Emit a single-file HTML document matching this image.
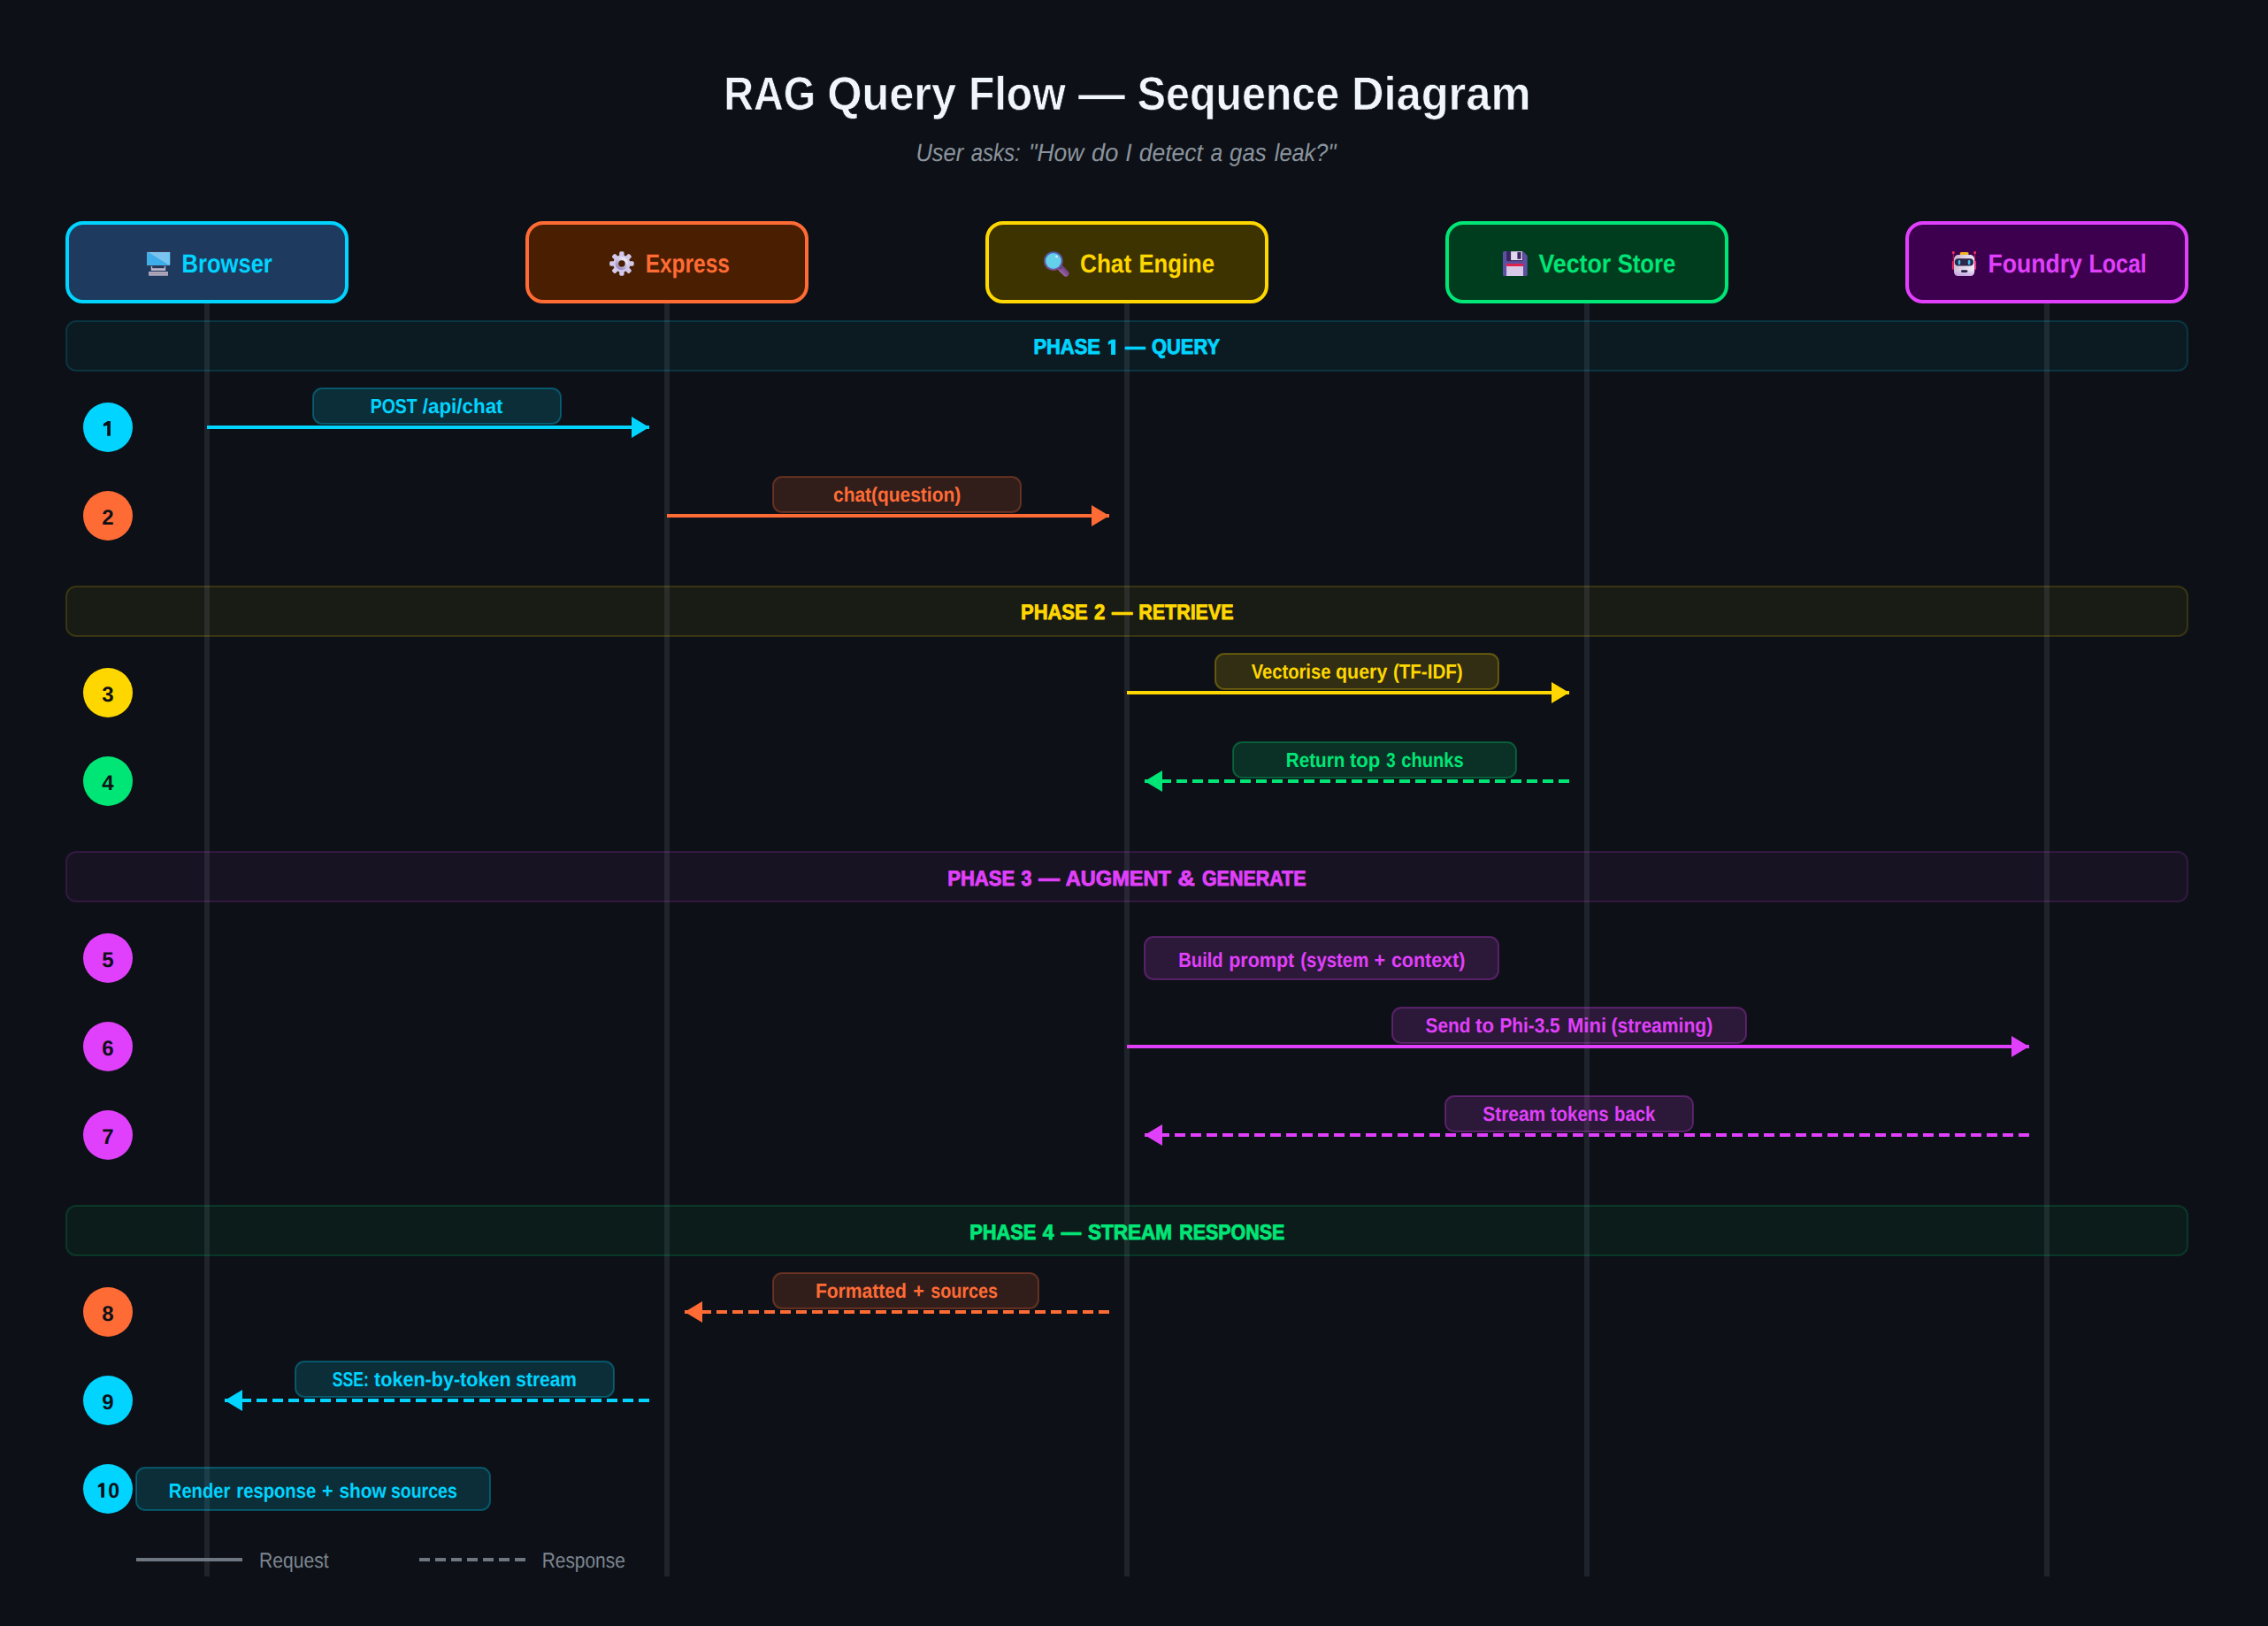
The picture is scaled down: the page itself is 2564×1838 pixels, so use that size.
<!DOCTYPE html>
<html><head><meta charset="utf-8"><title>RAG Query Flow</title>
<style>html,body{margin:0;padding:0;width:100%;height:100%;background:#0d1117;overflow:hidden;}svg{display:block;}</style>
</head><body>
<svg width="2564" height="1838" style="width:100vw;height:100vh" viewBox="0 0 1282 919" font-family='"Liberation Sans", sans-serif' text-rendering="geometricPrecision">
<rect width="1282" height="919" fill="#0d1117"/>
<line x1="117" y1="171.5" x2="117" y2="891" stroke="#1f242c" stroke-width="3"/>
<line x1="377" y1="171.5" x2="377" y2="891" stroke="#1f242c" stroke-width="3"/>
<line x1="637" y1="171.5" x2="637" y2="891" stroke="#1f242c" stroke-width="3"/>
<line x1="897" y1="171.5" x2="897" y2="891" stroke="#1f242c" stroke-width="3"/>
<line x1="1157" y1="171.5" x2="1157" y2="891" stroke="#1f242c" stroke-width="3"/>
<rect x="37.5" y="181.5" width="1199" height="28" rx="5.5" fill="#00d4ff" fill-opacity="0.05" stroke="#00d4ff" stroke-opacity="0.16" stroke-width="1"/>
<rect x="37.5" y="331.5" width="1199" height="28" rx="5.5" fill="#ffd700" fill-opacity="0.05" stroke="#ffd700" stroke-opacity="0.16" stroke-width="1"/>
<rect x="37.5" y="481.5" width="1199" height="28" rx="5.5" fill="#e040fb" fill-opacity="0.05" stroke="#e040fb" stroke-opacity="0.16" stroke-width="1"/>
<rect x="37.5" y="681.5" width="1199" height="28" rx="5.5" fill="#00e676" fill-opacity="0.05" stroke="#00e676" stroke-opacity="0.16" stroke-width="1"/>
<rect x="38" y="126" width="158" height="44.5" rx="9" fill="#1e3a5f" stroke="#00d4ff" stroke-width="2"/>
<rect x="298" y="126" width="158" height="44.5" rx="9" fill="#4a1e00" stroke="#ff6b35" stroke-width="2"/>
<rect x="558" y="126" width="158" height="44.5" rx="9" fill="#3d3300" stroke="#ffd700" stroke-width="2"/>
<rect x="818" y="126" width="158" height="44.5" rx="9" fill="#003d1e" stroke="#00e676" stroke-width="2"/>
<rect x="1078" y="126" width="158" height="44.5" rx="9" fill="#3d004f" stroke="#e040fb" stroke-width="2"/>
<g transform="translate(80,139) scale(0.5)">
<rect x="5.2" y="6" width="27.6" height="16.8" rx="0.6" fill="#3d3a52"/>
<rect x="6" y="7" width="26.1" height="15" fill="#3eaeea"/>
<polygon points="7.5,7 32.1,7 32.1,21.2 30.6,21.2" fill="#7cc3f0"/>
<rect x="29" y="7" width="3.1" height="14" fill="#62cdf6" opacity="0.6"/>
<rect x="10.8" y="22.8" width="1.4" height="5.1" fill="#c4bacf"/>
<rect x="25.8" y="22.8" width="1.4" height="5.1" fill="#c4bacf"/>
<rect x="12" y="25.2" width="14" height="2.7" fill="#c0b7cc"/>
<rect x="8.1" y="29" width="21.8" height="4.7" fill="#bab2c6"/>
<rect x="9" y="30" width="20" height="2.4" fill="#a49db0"/>
</g>
<g transform="translate(342,139) scale(0.5)">
<defs><linearGradient id="gring" x1="0.2" y1="0.9" x2="0.8" y2="0.1">
<stop offset="0" stop-color="#9d8fc2"/><stop offset="1" stop-color="#ece8f4"/></linearGradient></defs>
<g fill="#d3c9ea"><rect x="16.2" y="6.2" width="5.4" height="9" rx="1.7" transform="rotate(0 18.9 20)"/><rect x="16.2" y="6.2" width="5.4" height="9" rx="1.7" transform="rotate(45 18.9 20)"/><rect x="16.2" y="6.2" width="5.4" height="9" rx="1.7" transform="rotate(90 18.9 20)"/><rect x="16.2" y="6.2" width="5.4" height="9" rx="1.7" transform="rotate(135 18.9 20)"/><rect x="16.2" y="6.2" width="5.4" height="9" rx="1.7" transform="rotate(180 18.9 20)"/><rect x="16.2" y="6.2" width="5.4" height="9" rx="1.7" transform="rotate(225 18.9 20)"/><rect x="16.2" y="6.2" width="5.4" height="9" rx="1.7" transform="rotate(270 18.9 20)"/><rect x="16.2" y="6.2" width="5.4" height="9" rx="1.7" transform="rotate(315 18.9 20)"/></g>
<circle cx="18.9" cy="20" r="9.7" fill="#d3c9ea"/>
<circle cx="18.9" cy="20" r="5.6" fill="none" stroke="url(#gring)" stroke-width="3.4"/>
<circle cx="18.9" cy="20" r="3.8" fill="#4a1e00"/>
</g>
<g transform="translate(587.5,139) scale(0.5)">
<defs><linearGradient id="mrim" x1="0" y1="0" x2="0" y2="1">
<stop offset="0" stop-color="#4d5aaa"/><stop offset="1" stop-color="#7e4a92"/></linearGradient>
<linearGradient id="mhan" x1="0" y1="1" x2="1" y2="0">
<stop offset="0" stop-color="#a066a4"/><stop offset="1" stop-color="#6a3c86"/></linearGradient></defs>
<line x1="24.6" y1="25.6" x2="30" y2="31" stroke="url(#mhan)" stroke-width="7.2" stroke-linecap="round"/>
<line x1="22.6" y1="23.6" x2="24.6" y2="25.6" stroke="#5e3a7c" stroke-width="4"/>
<circle cx="15.9" cy="17" r="10.8" fill="url(#mrim)"/>
<circle cx="15.9" cy="17" r="9" fill="#52c4ee"/>
<circle cx="15.9" cy="17" r="8.3" fill="#64d0ea"/>
<circle cx="19.5" cy="12.1" r="1.4" fill="#dfe4f8"/>
</g>
<g transform="translate(847,139) scale(0.5)">
<path d="M6.5,6 H27.8 L32.7,11 V32.5 Q32.7,34 31.2,34 H6.5 Q5,34 5,32.5 V7.5 Q5,6 6.5,6 Z" fill="#5d50a0"/>
<rect x="9.2" y="6" width="18.4" height="11.2" rx="1.2" fill="#36255e"/>
<rect x="14.1" y="6.2" width="12.9" height="9.9" fill="#e0d7ec"/>
<rect x="21.4" y="7.1" width="4.2" height="7.7" fill="#3a2666"/>
<rect x="9.1" y="20" width="18.9" height="14" fill="#d8c9e7"/>
<rect x="9.1" y="20" width="18.9" height="3" fill="#e0204c"/>
</g>
<g transform="translate(1100,139) scale(0.5)">
<line x1="8.3" y1="8" x2="8.3" y2="18" stroke="#c82050" stroke-width="0.9"/>
<line x1="32.7" y1="8" x2="32.7" y2="18" stroke="#c82050" stroke-width="0.9"/>
<circle cx="8.3" cy="7.6" r="1.5" fill="#ff3058"/>
<circle cx="32.7" cy="7.6" r="1.5" fill="#ff3058"/>
<rect x="6.9" y="17" width="1.9" height="9.8" rx="0.8" fill="#e8285c"/>
<rect x="32.2" y="17" width="1.9" height="9.8" rx="0.8" fill="#f0308a"/>
<rect x="15.7" y="7" width="9.9" height="3.3" rx="1.6" fill="#f2b41e"/>
<defs><linearGradient id="rhead" x1="0" y1="0" x2="1" y2="0.35">
<stop offset="0" stop-color="#c9b0c8"/><stop offset="0.45" stop-color="#dccfe6"/><stop offset="1" stop-color="#eee9f6"/></linearGradient>
<linearGradient id="rbot" x1="0" y1="0" x2="0" y2="1">
<stop offset="0.7" stop-color="#b98fe0" stop-opacity="0"/><stop offset="1" stop-color="#b98fe0" stop-opacity="0.7"/></linearGradient></defs>
<rect x="9" y="10.1" width="23.2" height="24" rx="5" fill="url(#rhead)"/>
<rect x="9" y="10.1" width="23.2" height="24" rx="5" fill="url(#rbot)"/>
<rect x="9.8" y="14.3" width="21.2" height="8.1" rx="4" fill="#2f2648"/>
<rect x="13.8" y="16" width="2.4" height="5.2" rx="1.2" fill="#3cc2f4"/>
<rect x="24.8" y="16" width="2.6" height="5.2" rx="1.2" fill="#3cc2f4"/>
<rect x="17" y="27.2" width="7.4" height="2.7" rx="1.35" fill="#2a2244"/>
</g>
<rect x="177" y="219.5" width="140" height="20" rx="5" fill="#00d4ff" fill-opacity="0.15" stroke="#00d4ff" stroke-opacity="0.3" stroke-width="1"/>
<rect x="437" y="269.5" width="140" height="20" rx="5" fill="#ff6b35" fill-opacity="0.15" stroke="#ff6b35" stroke-opacity="0.3" stroke-width="1"/>
<rect x="687" y="369.5" width="160" height="20" rx="5" fill="#ffd700" fill-opacity="0.15" stroke="#ffd700" stroke-opacity="0.3" stroke-width="1"/>
<rect x="697" y="419.5" width="160" height="20" rx="5" fill="#00e676" fill-opacity="0.15" stroke="#00e676" stroke-opacity="0.3" stroke-width="1"/>
<rect x="647" y="529.5" width="200" height="24" rx="5" fill="#e040fb" fill-opacity="0.15" stroke="#e040fb" stroke-opacity="0.3" stroke-width="1"/>
<rect x="787" y="569.5" width="200" height="20" rx="5" fill="#e040fb" fill-opacity="0.15" stroke="#e040fb" stroke-opacity="0.3" stroke-width="1"/>
<rect x="817" y="619.5" width="140" height="20" rx="5" fill="#e040fb" fill-opacity="0.15" stroke="#e040fb" stroke-opacity="0.3" stroke-width="1"/>
<rect x="437" y="719.5" width="150" height="20" rx="5" fill="#ff6b35" fill-opacity="0.15" stroke="#ff6b35" stroke-opacity="0.3" stroke-width="1"/>
<rect x="167" y="769.5" width="180" height="20" rx="5" fill="#00d4ff" fill-opacity="0.15" stroke="#00d4ff" stroke-opacity="0.3" stroke-width="1"/>
<rect x="77" y="829.5" width="200" height="24" rx="5" fill="#00d4ff" fill-opacity="0.15" stroke="#00d4ff" stroke-opacity="0.3" stroke-width="1"/>
<line x1="117" y1="241.5" x2="367" y2="241.5" stroke="#00d4ff" stroke-width="2"/>
<polygon points="367,241.5 357,235.5 357,247.5" fill="#00d4ff"/>
<line x1="377" y1="291.5" x2="627" y2="291.5" stroke="#ff6b35" stroke-width="2"/>
<polygon points="627,291.5 617,285.5 617,297.5" fill="#ff6b35"/>
<line x1="637" y1="391.5" x2="887" y2="391.5" stroke="#ffd700" stroke-width="2"/>
<polygon points="887,391.5 877,385.5 877,397.5" fill="#ffd700"/>
<line x1="887" y1="441.5" x2="647" y2="441.5" stroke="#00e676" stroke-width="2" stroke-dasharray="6 3"/>
<polygon points="647,441.5 657,435.5 657,447.5" fill="#00e676"/>
<line x1="637" y1="591.5" x2="1147" y2="591.5" stroke="#e040fb" stroke-width="2"/>
<polygon points="1147,591.5 1137,585.5 1137,597.5" fill="#e040fb"/>
<line x1="1147" y1="641.5" x2="647" y2="641.5" stroke="#e040fb" stroke-width="2" stroke-dasharray="6 3"/>
<polygon points="647,641.5 657,635.5 657,647.5" fill="#e040fb"/>
<line x1="627" y1="741.5" x2="387" y2="741.5" stroke="#ff6b35" stroke-width="2" stroke-dasharray="6 3"/>
<polygon points="387,741.5 397,735.5 397,747.5" fill="#ff6b35"/>
<line x1="367" y1="791.5" x2="127" y2="791.5" stroke="#00d4ff" stroke-width="2" stroke-dasharray="6 3"/>
<polygon points="127,791.5 137,785.5 137,797.5" fill="#00d4ff"/>
<circle cx="61" cy="241.5" r="14" fill="#00d4ff"/>
<polygon points="62.45,238.05 60.85,238.05 58.45,239.55 58.45,240.95 60.60,240.32 60.60,246.35 62.45,246.35" fill="#0d1117"/>
<circle cx="61" cy="291.5" r="14" fill="#ff6b35"/>
<text x="61" y="296.3" font-size="12" font-weight="bold" fill="#0d1117" text-anchor="middle">2</text>
<circle cx="61" cy="391.5" r="14" fill="#ffd700"/>
<text x="61" y="396.3" font-size="12" font-weight="bold" fill="#0d1117" text-anchor="middle">3</text>
<circle cx="61" cy="441.5" r="14" fill="#00e676"/>
<text x="61" y="446.3" font-size="12" font-weight="bold" fill="#0d1117" text-anchor="middle">4</text>
<circle cx="61" cy="541.5" r="14" fill="#e040fb"/>
<text x="61" y="546.3" font-size="12" font-weight="bold" fill="#0d1117" text-anchor="middle">5</text>
<circle cx="61" cy="591.5" r="14" fill="#e040fb"/>
<text x="61" y="596.3" font-size="12" font-weight="bold" fill="#0d1117" text-anchor="middle">6</text>
<circle cx="61" cy="641.5" r="14" fill="#e040fb"/>
<text x="61" y="646.3" font-size="12" font-weight="bold" fill="#0d1117" text-anchor="middle">7</text>
<circle cx="61" cy="741.5" r="14" fill="#ff6b35"/>
<text x="61" y="746.3" font-size="12" font-weight="bold" fill="#0d1117" text-anchor="middle">8</text>
<circle cx="61" cy="791.5" r="14" fill="#00d4ff"/>
<text x="61" y="796.3" font-size="12" font-weight="bold" fill="#0d1117" text-anchor="middle">9</text>
<circle cx="61" cy="841.5" r="14" fill="#00d4ff"/>
<polygon points="58.95,838.10 57.35,838.10 55.40,839.50 55.40,840.80 57.10,840.21 57.10,846.35 58.95,846.35" fill="#0d1117"/>
<polygon points="630.53,191.93 628.29,191.93 626.40,193.13 626.40,194.94 628.04,194.13 628.04,200.53 630.53,200.53" fill="#00d4ff"/>
<line x1="77" y1="881.5" x2="137" y2="881.5" stroke="#6e7681" stroke-width="2"/>
<line x1="237" y1="881.5" x2="297" y2="881.5" stroke="#6e7681" stroke-width="2" stroke-dasharray="6 3"/>
<text x="409.15" y="62.15" font-size="26.6" font-weight="bold" font-style="normal" stroke="#0d1117" stroke-width="0.35" stroke-linejoin="round" fill="#f0f6fc" textLength="51.87" lengthAdjust="spacingAndGlyphs">RAG</text>
<text x="467.60" y="62.15" font-size="26.6" font-weight="bold" font-style="normal" stroke="#0d1117" stroke-width="0.35" stroke-linejoin="round" fill="#f0f6fc" textLength="72.95" lengthAdjust="spacingAndGlyphs">Query</text>
<text x="547.49" y="62.15" font-size="26.6" font-weight="bold" font-style="normal" stroke="#0d1117" stroke-width="0.35" stroke-linejoin="round" fill="#f0f6fc" textLength="54.88" lengthAdjust="spacingAndGlyphs">Flow</text>
<text x="609.55" y="62.15" font-size="26.6" font-weight="bold" font-style="normal" stroke="#0d1117" stroke-width="0.35" stroke-linejoin="round" fill="#f0f6fc" textLength="26.49" lengthAdjust="spacingAndGlyphs">—</text>
<text x="642.89" y="62.15" font-size="26.6" font-weight="bold" font-style="normal" stroke="#0d1117" stroke-width="0.35" stroke-linejoin="round" fill="#f0f6fc" textLength="114.20" lengthAdjust="spacingAndGlyphs">Sequence</text>
<text x="763.95" y="62.15" font-size="26.6" font-weight="bold" font-style="normal" stroke="#0d1117" stroke-width="0.35" stroke-linejoin="round" fill="#f0f6fc" textLength="101.28" lengthAdjust="spacingAndGlyphs">Diagram</text>
<text x="517.69" y="91.15" font-size="14.0" font-weight="normal" font-style="italic" fill="#8b949e" textLength="26.96" lengthAdjust="spacingAndGlyphs">User</text>
<text x="548.90" y="91.15" font-size="14.0" font-weight="normal" font-style="italic" fill="#8b949e" textLength="27.89" lengthAdjust="spacingAndGlyphs">asks:</text>
<text x="581.56" y="91.15" font-size="14.0" font-weight="normal" font-style="italic" fill="#8b949e" textLength="31.14" lengthAdjust="spacingAndGlyphs">&quot;How</text>
<text x="617.01" y="91.15" font-size="14.0" font-weight="normal" font-style="italic" fill="#8b949e" textLength="15.16" lengthAdjust="spacingAndGlyphs">do</text>
<text x="636.18" y="91.15" font-size="14.0" font-weight="normal" font-style="italic" fill="#8b949e" textLength="3.67" lengthAdjust="spacingAndGlyphs">I</text>
<text x="643.88" y="91.15" font-size="14.0" font-weight="normal" font-style="italic" fill="#8b949e" textLength="36.06" lengthAdjust="spacingAndGlyphs">detect</text>
<text x="684.30" y="91.15" font-size="14.0" font-weight="normal" font-style="italic" fill="#8b949e" textLength="6.86" lengthAdjust="spacingAndGlyphs">a</text>
<text x="695.05" y="91.15" font-size="14.0" font-weight="normal" font-style="italic" fill="#8b949e" textLength="20.72" lengthAdjust="spacingAndGlyphs">gas</text>
<text x="720.40" y="91.15" font-size="14.0" font-weight="normal" font-style="italic" fill="#8b949e" textLength="34.81" lengthAdjust="spacingAndGlyphs">leak?&quot;</text>
<text x="102.78" y="153.95" font-size="14.75" font-weight="bold" font-style="normal" fill="#00d4ff" textLength="51.14" lengthAdjust="spacingAndGlyphs">Browser</text>
<text x="364.82" y="153.95" font-size="14.75" font-weight="bold" font-style="normal" fill="#ff6b35" textLength="47.67" lengthAdjust="spacingAndGlyphs">Express</text>
<text x="610.51" y="153.95" font-size="14.75" font-weight="bold" font-style="normal" fill="#ffd700" textLength="29.05" lengthAdjust="spacingAndGlyphs">Chat</text>
<text x="643.73" y="153.95" font-size="14.75" font-weight="bold" font-style="normal" fill="#ffd700" textLength="42.82" lengthAdjust="spacingAndGlyphs">Engine</text>
<text x="869.75" y="153.95" font-size="14.75" font-weight="bold" font-style="normal" fill="#00e676" textLength="40.88" lengthAdjust="spacingAndGlyphs">Vector</text>
<text x="914.37" y="153.95" font-size="14.75" font-weight="bold" font-style="normal" fill="#00e676" textLength="32.77" lengthAdjust="spacingAndGlyphs">Store</text>
<text x="1123.70" y="153.95" font-size="14.75" font-weight="bold" font-style="normal" fill="#e040fb" textLength="53.25" lengthAdjust="spacingAndGlyphs">Foundry</text>
<text x="1180.70" y="153.95" font-size="14.75" font-weight="bold" font-style="normal" fill="#e040fb" textLength="32.73" lengthAdjust="spacingAndGlyphs">Local</text>
<text x="584.20" y="200.1" font-size="12.1" font-weight="bold" font-style="normal" stroke="#00d4ff" stroke-width="0.45" stroke-linejoin="round" fill="#00d4ff" textLength="37.81" lengthAdjust="spacingAndGlyphs">PHASE</text>
<text x="636.12" y="200.1" font-size="12.1" font-weight="bold" font-style="normal" stroke="#00d4ff" stroke-width="0.45" stroke-linejoin="round" fill="#00d4ff" textLength="11.26" lengthAdjust="spacingAndGlyphs">—</text>
<text x="651.05" y="200.1" font-size="12.1" font-weight="bold" font-style="normal" stroke="#00d4ff" stroke-width="0.45" stroke-linejoin="round" fill="#00d4ff" textLength="38.45" lengthAdjust="spacingAndGlyphs">QUERY</text>
<text x="577.00" y="350.15" font-size="12.1" font-weight="bold" font-style="normal" stroke="#ffd700" stroke-width="0.45" stroke-linejoin="round" fill="#ffd700" textLength="37.81" lengthAdjust="spacingAndGlyphs">PHASE</text>
<text x="618.50" y="350.15" font-size="12.1" font-weight="bold" font-style="normal" stroke="#ffd700" stroke-width="0.45" stroke-linejoin="round" fill="#ffd700" textLength="6.16" lengthAdjust="spacingAndGlyphs">2</text>
<text x="628.53" y="350.15" font-size="12.1" font-weight="bold" font-style="normal" stroke="#ffd700" stroke-width="0.45" stroke-linejoin="round" fill="#ffd700" textLength="11.63" lengthAdjust="spacingAndGlyphs">—</text>
<text x="643.66" y="350.15" font-size="12.1" font-weight="bold" font-style="normal" stroke="#ffd700" stroke-width="0.45" stroke-linejoin="round" fill="#ffd700" textLength="53.58" lengthAdjust="spacingAndGlyphs">RETRIEVE</text>
<text x="535.64" y="500.3" font-size="12.1" font-weight="bold" font-style="normal" stroke="#e040fb" stroke-width="0.45" stroke-linejoin="round" fill="#e040fb" textLength="37.96" lengthAdjust="spacingAndGlyphs">PHASE</text>
<text x="577.20" y="500.3" font-size="12.1" font-weight="bold" font-style="normal" stroke="#e040fb" stroke-width="0.45" stroke-linejoin="round" fill="#e040fb" textLength="5.96" lengthAdjust="spacingAndGlyphs">3</text>
<text x="587.14" y="500.3" font-size="12.1" font-weight="bold" font-style="normal" stroke="#e040fb" stroke-width="0.45" stroke-linejoin="round" fill="#e040fb" textLength="11.86" lengthAdjust="spacingAndGlyphs">—</text>
<text x="602.40" y="500.3" font-size="12.1" font-weight="bold" font-style="normal" stroke="#e040fb" stroke-width="0.45" stroke-linejoin="round" fill="#e040fb" textLength="59.55" lengthAdjust="spacingAndGlyphs">AUGMENT</text>
<text x="665.80" y="500.3" font-size="12.1" font-weight="bold" font-style="normal" stroke="#e040fb" stroke-width="0.45" stroke-linejoin="round" fill="#e040fb" textLength="9.66" lengthAdjust="spacingAndGlyphs">&amp;</text>
<text x="679.45" y="500.3" font-size="12.1" font-weight="bold" font-style="normal" stroke="#e040fb" stroke-width="0.45" stroke-linejoin="round" fill="#e040fb" textLength="58.82" lengthAdjust="spacingAndGlyphs">GENERATE</text>
<text x="548.10" y="700.3" font-size="12.1" font-weight="bold" font-style="normal" stroke="#00e676" stroke-width="0.45" stroke-linejoin="round" fill="#00e676" textLength="37.61" lengthAdjust="spacingAndGlyphs">PHASE</text>
<text x="589.40" y="700.3" font-size="12.1" font-weight="bold" font-style="normal" stroke="#00e676" stroke-width="0.45" stroke-linejoin="round" fill="#00e676" textLength="6.35" lengthAdjust="spacingAndGlyphs">4</text>
<text x="599.91" y="700.3" font-size="12.1" font-weight="bold" font-style="normal" stroke="#00e676" stroke-width="0.45" stroke-linejoin="round" fill="#00e676" textLength="11.21" lengthAdjust="spacingAndGlyphs">—</text>
<text x="614.95" y="700.3" font-size="12.1" font-weight="bold" font-style="normal" stroke="#00e676" stroke-width="0.45" stroke-linejoin="round" fill="#00e676" textLength="47.57" lengthAdjust="spacingAndGlyphs">STREAM</text>
<text x="666.61" y="700.3" font-size="12.1" font-weight="bold" font-style="normal" stroke="#00e676" stroke-width="0.45" stroke-linejoin="round" fill="#00e676" textLength="59.59" lengthAdjust="spacingAndGlyphs">RESPONSE</text>
<text x="209.38" y="233.5" font-size="11.55" font-weight="bold" font-style="normal" fill="#00d4ff" textLength="26.48" lengthAdjust="spacingAndGlyphs">POST</text>
<text x="238.90" y="233.5" font-size="11.55" font-weight="bold" font-style="normal" fill="#00d4ff" textLength="45.40" lengthAdjust="spacingAndGlyphs">/api/chat</text>
<text x="471.00" y="283.5" font-size="11.55" font-weight="bold" font-style="normal" fill="#ff6b35" textLength="72.10" lengthAdjust="spacingAndGlyphs">chat(question)</text>
<text x="707.35" y="383.5" font-size="11.55" font-weight="bold" font-style="normal" fill="#ffd700" textLength="44.86" lengthAdjust="spacingAndGlyphs">Vectorise</text>
<text x="755.04" y="383.5" font-size="11.55" font-weight="bold" font-style="normal" fill="#ffd700" textLength="29.12" lengthAdjust="spacingAndGlyphs">query</text>
<text x="787.46" y="383.5" font-size="11.55" font-weight="bold" font-style="normal" fill="#ffd700" textLength="39.37" lengthAdjust="spacingAndGlyphs">(TF-IDF)</text>
<text x="726.90" y="433.5" font-size="11.55" font-weight="bold" font-style="normal" fill="#00e676" textLength="33.34" lengthAdjust="spacingAndGlyphs">Return</text>
<text x="763.00" y="433.5" font-size="11.55" font-weight="bold" font-style="normal" fill="#00e676" textLength="17.18" lengthAdjust="spacingAndGlyphs">top</text>
<text x="783.60" y="433.5" font-size="11.55" font-weight="bold" font-style="normal" fill="#00e676" textLength="5.19" lengthAdjust="spacingAndGlyphs">3</text>
<text x="792.16" y="433.5" font-size="11.55" font-weight="bold" font-style="normal" fill="#00e676" textLength="35.22" lengthAdjust="spacingAndGlyphs">chunks</text>
<text x="666.16" y="546.55" font-size="11.55" font-weight="bold" font-style="normal" fill="#e040fb" textLength="25.16" lengthAdjust="spacingAndGlyphs">Build</text>
<text x="694.63" y="546.55" font-size="11.55" font-weight="bold" font-style="normal" fill="#e040fb" textLength="37.01" lengthAdjust="spacingAndGlyphs">prompt</text>
<text x="735.16" y="546.55" font-size="11.55" font-weight="bold" font-style="normal" fill="#e040fb" textLength="38.47" lengthAdjust="spacingAndGlyphs">(system</text>
<text x="776.73" y="546.55" font-size="11.55" font-weight="bold" font-style="normal" fill="#e040fb" textLength="6.30" lengthAdjust="spacingAndGlyphs">+</text>
<text x="786.44" y="546.55" font-size="11.55" font-weight="bold" font-style="normal" fill="#e040fb" textLength="41.71" lengthAdjust="spacingAndGlyphs">context)</text>
<text x="805.80" y="583.5" font-size="11.55" font-weight="bold" font-style="normal" fill="#e040fb" textLength="25.46" lengthAdjust="spacingAndGlyphs">Send</text>
<text x="834.00" y="583.5" font-size="11.55" font-weight="bold" font-style="normal" fill="#e040fb" textLength="10.49" lengthAdjust="spacingAndGlyphs">to</text>
<text x="847.75" y="583.5" font-size="11.55" font-weight="bold" font-style="normal" fill="#e040fb" textLength="34.09" lengthAdjust="spacingAndGlyphs">Phi-3.5</text>
<text x="885.97" y="583.5" font-size="11.55" font-weight="bold" font-style="normal" fill="#e040fb" textLength="22.04" lengthAdjust="spacingAndGlyphs">Mini</text>
<text x="910.74" y="583.5" font-size="11.55" font-weight="bold" font-style="normal" fill="#e040fb" textLength="57.36" lengthAdjust="spacingAndGlyphs">(streaming)</text>
<text x="838.10" y="633.5" font-size="11.55" font-weight="bold" font-style="normal" fill="#e040fb" textLength="35.50" lengthAdjust="spacingAndGlyphs">Stream</text>
<text x="876.40" y="633.5" font-size="11.55" font-weight="bold" font-style="normal" fill="#e040fb" textLength="32.89" lengthAdjust="spacingAndGlyphs">tokens</text>
<text x="912.56" y="633.5" font-size="11.55" font-weight="bold" font-style="normal" fill="#e040fb" textLength="23.09" lengthAdjust="spacingAndGlyphs">back</text>
<text x="460.94" y="733.5" font-size="11.55" font-weight="bold" font-style="normal" fill="#ff6b35" textLength="51.53" lengthAdjust="spacingAndGlyphs">Formatted</text>
<text x="516.18" y="733.5" font-size="11.55" font-weight="bold" font-style="normal" fill="#ff6b35" textLength="6.30" lengthAdjust="spacingAndGlyphs">+</text>
<text x="526.17" y="733.5" font-size="11.55" font-weight="bold" font-style="normal" fill="#ff6b35" textLength="37.78" lengthAdjust="spacingAndGlyphs">sources</text>
<text x="187.82" y="783.5" font-size="11.55" font-weight="bold" font-style="normal" fill="#00d4ff" textLength="20.61" lengthAdjust="spacingAndGlyphs">SSE:</text>
<text x="211.55" y="783.5" font-size="11.55" font-weight="bold" font-style="normal" fill="#00d4ff" textLength="77.25" lengthAdjust="spacingAndGlyphs">token-by-token</text>
<text x="291.65" y="783.5" font-size="11.55" font-weight="bold" font-style="normal" fill="#00d4ff" textLength="34.34" lengthAdjust="spacingAndGlyphs">stream</text>
<text x="95.41" y="846.55" font-size="11.55" font-weight="bold" font-style="normal" fill="#00d4ff" textLength="34.76" lengthAdjust="spacingAndGlyphs">Render</text>
<text x="133.66" y="846.55" font-size="11.55" font-weight="bold" font-style="normal" fill="#00d4ff" textLength="44.94" lengthAdjust="spacingAndGlyphs">response</text>
<text x="181.98" y="846.55" font-size="11.55" font-weight="bold" font-style="normal" fill="#00d4ff" textLength="6.30" lengthAdjust="spacingAndGlyphs">+</text>
<text x="191.75" y="846.55" font-size="11.55" font-weight="bold" font-style="normal" fill="#00d4ff" textLength="26.67" lengthAdjust="spacingAndGlyphs">show</text>
<text x="220.98" y="846.55" font-size="11.55" font-weight="bold" font-style="normal" fill="#00d4ff" textLength="37.42" lengthAdjust="spacingAndGlyphs">sources</text>
<text x="61.12" y="846.35" font-size="12" font-weight="bold" font-style="normal" fill="#0d1117" textLength="6.41" lengthAdjust="spacingAndGlyphs">0</text>
<text x="146.53" y="885.8" font-size="12.1" font-weight="normal" font-style="normal" fill="#7d8590" textLength="39.31" lengthAdjust="spacingAndGlyphs">Request</text>
<text x="306.34" y="885.8" font-size="12.1" font-weight="normal" font-style="normal" fill="#7d8590" textLength="47.07" lengthAdjust="spacingAndGlyphs">Response</text>
</svg>
</body></html>
